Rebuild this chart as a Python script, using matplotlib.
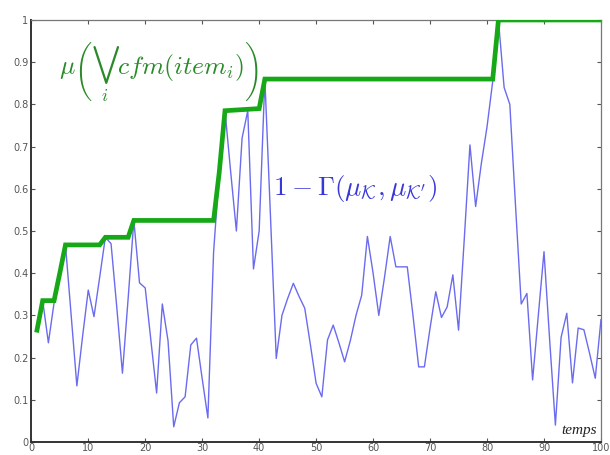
import numpy as np
import matplotlib
matplotlib.use("Agg")
import matplotlib.pyplot as plt

plt.rcParams["mathtext.fontset"] = "cm"

# time steps and dissimilarity-based confidence 1 - Gamma
t = np.arange(1, 101)
confidence = [
    0.265, 0.335, 0.235, 0.33, 0.40, 0.467, 0.30, 0.133, 0.25, 0.36,
    0.297, 0.39, 0.485, 0.47, 0.32, 0.163, 0.34, 0.525, 0.377, 0.365,
    0.24, 0.116, 0.327, 0.24, 0.036, 0.093, 0.107, 0.23, 0.246, 0.15,
    0.057, 0.45, 0.64, 0.785, 0.64, 0.50, 0.72, 0.785, 0.41, 0.50,
    0.86, 0.53, 0.198, 0.30, 0.34, 0.376, 0.345, 0.317, 0.23, 0.139,
    0.107, 0.242, 0.277, 0.235, 0.19, 0.24, 0.30, 0.348, 0.487, 0.40,
    0.30, 0.39, 0.487, 0.415, 0.415, 0.415, 0.30, 0.178, 0.178, 0.27,
    0.356, 0.295, 0.32, 0.396, 0.265, 0.48, 0.704, 0.558, 0.66, 0.747,
    0.855, 1.0, 0.84, 0.80, 0.56, 0.327, 0.352, 0.147, 0.30, 0.451,
    0.24, 0.04, 0.248, 0.305, 0.14, 0.27, 0.266, 0.21, 0.151, 0.29,
]

# accumulated confidence mu(V cfm(item_i)): breakpoints of the step curve
cfm_t = [1, 2, 4, 5, 6, 12, 13, 17, 18, 32, 33, 34, 40, 41, 81, 82, 100]
cfm_v = [0.265, 0.335, 0.335, 0.40, 0.467, 0.467, 0.485, 0.485, 0.525,
         0.525, 0.64, 0.785, 0.79, 0.86, 0.86, 1.0, 1.0]

x_ticks = list(range(0, 101, 10))
y_ticks = [0, 0.1, 0.2, 0.3, 0.4, 0.5, 0.6, 0.7, 0.8, 0.9, 1]
y_labels = ["0", "0.1", "0.2", "0.3", "0.4", "0.5", "0.6", "0.7", "0.8", "0.9", "1"]

fig = plt.figure(figsize=(6.1, 4.55), dpi=100)
ax = fig.add_axes([0.0513, 0.0286, 0.9339, 0.9275])

ax.plot(t, confidence, color="#6b6bf0", lw=1.0, zorder=2)
ax.plot(cfm_t, cfm_v, color="#16a816", lw=3.4, solid_joinstyle="miter",
        zorder=3)

ax.set_xlim(0, 100)
ax.set_ylim(0, 1)
ax.set_xticks(x_ticks)
ax.set_yticks(y_ticks)
ax.set_yticklabels(y_labels)
ax.tick_params(direction="in", length=3, width=0.8, colors="#555555",
               labelsize=7, labelcolor="#555555", top=True, right=True,
               pad=2)
ax.tick_params(axis="x", pad=1)
for side in ["left", "bottom"]:
    ax.spines[side].set_color("#333333")
    ax.spines[side].set_linewidth(1.4)
for side in ["top", "right"]:
    ax.spines[side].set_color("#777777")
    ax.spines[side].set_linewidth(0.9)

ax.text(4.9, 0.875, r"$\mu\left(\bigvee_i^{\ \ } cfm(item_i)\right)$",
        color="#2a8a2a", fontsize=18.5, va="center", ha="left")
ax.text(42.5, 0.60, r"$1-\Gamma(\mu_{\mathcal{K}},\mu_{\mathcal{K}'})$",
        color="#3838d8", fontsize=19.5, va="center", ha="left")
ax.text(99.3, 0.012, "temps", family="Liberation Serif", style="italic",
        fontsize=11, color="#222222", ha="right", va="bottom")

fig.savefig("out.png", dpi=100)
